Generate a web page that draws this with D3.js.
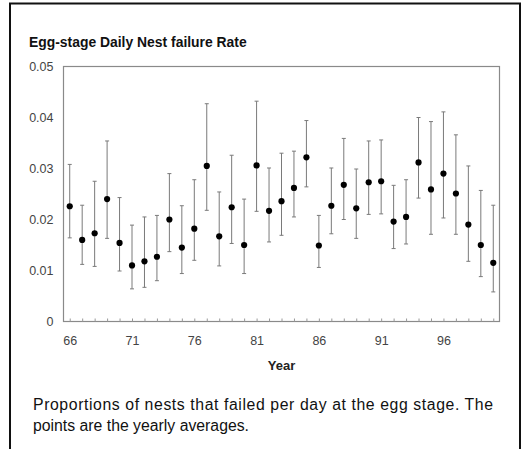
<!DOCTYPE html>
<html>
<head>
<meta charset="utf-8">
<script src="https://cdn.jsdelivr.net/npm/d3@7"></script>
<style>
  html, body { margin: 0; padding: 0; background: #fff; }
  svg { display: block; font-family: "Liberation Sans", Arial, sans-serif; }
</style>
</head>
<body>
<svg id="chart" width="523" height="449"></svg>
<script>
// Yearly egg-stage daily nest failure rates (1966–2000) with interval bounds
const years = [66, 67, 68, 69, 70, 71, 72, 73, 74, 75, 76, 77, 78, 79, 80, 81, 82, 83,
               84, 85, 86, 87, 88, 89, 90, 91, 92, 93, 94, 95, 96, 97, 98, 99, 100];
const rate  = [0.0226, 0.0160, 0.0173, 0.0240, 0.0154, 0.0110, 0.0118, 0.0127, 0.0200, 0.0145, 0.0182,
               0.0305, 0.0167, 0.0224, 0.0150, 0.0306, 0.0217, 0.0236, 0.0262, 0.0322, 0.0149, 0.0227, 0.0268,
               0.0222, 0.0273, 0.0275, 0.0196, 0.0205, 0.0312, 0.0259, 0.0290, 0.0251, 0.0190, 0.0150, 0.0115];
const upper = [0.0308, 0.0228, 0.0275, 0.0354, 0.0243, 0.0189, 0.0205, 0.0208, 0.0290, 0.0227, 0.0278,
               0.0427, 0.0254, 0.0326, 0.0240, 0.0432, 0.0301, 0.0330, 0.0334, 0.0394, 0.0208, 0.0301, 0.0359,
               0.0299, 0.0354, 0.0356, 0.0267, 0.0278, 0.0400, 0.0392, 0.0411, 0.0366, 0.0305, 0.0257, 0.0228];
const lower = [0.0164, 0.0112, 0.0108, 0.0163, 0.0099, 0.0064, 0.0067, 0.0080, 0.0137, 0.0094, 0.0120,
               0.0218, 0.0109, 0.0153, 0.0094, 0.0216, 0.0156, 0.0169, 0.0205, 0.0264, 0.0106, 0.0172, 0.0200,
               0.0163, 0.0210, 0.0211, 0.0143, 0.0152, 0.0242, 0.0171, 0.0203, 0.0171, 0.0118, 0.0088, 0.0058];

const xTickYears  = [66, 71, 76, 81, 86, 91, 96];
const yTickValues = [0, 0.01, 0.02, 0.03, 0.04, 0.05];
const yTickLabels = ["0", "0.01", "0.02", "0.03", "0.04", "0.05"];

const titleText = "Egg-stage Daily Nest failure Rate";
const xAxisTitle = "Year";
const captionLines = [
  "Proportions of nests that failed per day at the egg stage. The",
  "points are the yearly averages."
];

const rows = years.map((yr, i) => ({ year: yr, rate: rate[i], lo: lower[i], hi: upper[i] }));

const svg = d3.select("#chart");
const plot = { left: 63.5, right: 499.5, top: 66.5, bottom: 321.5 };

const x = d3.scaleLinear().domain([65.5, 100.5]).range([plot.left, plot.right]);
const y = d3.scaleLinear().domain([0, 0.05]).range([plot.bottom, plot.top]);

// Page frame (open at the bottom)
svg.append("path")
  .attr("d", "M10,449 V3.5 H520 V449")
  .attr("fill", "none")
  .attr("stroke", "#111")
  .attr("stroke-width", 2);

// Title
svg.append("text")
  .attr("x", 29)
  .attr("y", 47)
  .attr("font-size", 13.9)
  .attr("font-weight", "bold")
  .attr("fill", "#111")
  .text(titleText);

// Plot frame
svg.append("rect")
  .attr("x", plot.left)
  .attr("y", plot.top)
  .attr("width", plot.right - plot.left)
  .attr("height", plot.bottom - plot.top)
  .attr("fill", "none")
  .attr("stroke", "#8a8a8a")
  .attr("stroke-width", 1.2);

// Bottom axis: a short inward tick every year, labels every fifth year
const xAxis = d3.axisBottom(x)
  .tickValues(years)
  .tickSize(-3)
  .tickPadding(15)
  .tickFormat(d => xTickYears.includes(d) ? String(d) : "");

const gx = svg.append("g")
  .attr("transform", `translate(0,${plot.bottom})`)
  .call(xAxis);
gx.select(".domain").remove();
gx.selectAll(".tick line").attr("stroke", "#999");
gx.selectAll(".tick text")
  .attr("font-size", 12.5)
  .attr("font-family", "Liberation Sans, Arial, sans-serif")
  .attr("fill", "#444");

// Left axis
const yAxis = d3.axisLeft(y)
  .tickValues(yTickValues)
  .tickSize(0)
  .tickPadding(10)
  .tickFormat((d, i) => yTickLabels[i]);

const gy = svg.append("g")
  .attr("transform", `translate(${plot.left},0)`)
  .call(yAxis);
gy.select(".domain").remove();
gy.selectAll(".tick text")
  .attr("font-size", 12.5)
  .attr("font-family", "Liberation Sans, Arial, sans-serif")
  .attr("fill", "#444");

// Axis title
svg.append("text")
  .attr("x", (plot.left + plot.right) / 2)
  .attr("y", 370)
  .attr("text-anchor", "middle")
  .attr("font-size", 13)
  .attr("font-weight", "bold")
  .attr("fill", "#222")
  .text(xAxisTitle);

// Error bars
const bars = svg.append("g").selectAll("g.bar")
  .data(rows)
  .join("g")
  .attr("class", "bar")
  .attr("stroke", "#7a7a7a")
  .attr("stroke-width", 1);

bars.append("line")
  .attr("x1", d => x(d.year)).attr("x2", d => x(d.year))
  .attr("y1", d => y(d.hi)).attr("y2", d => y(d.lo));
bars.append("line")
  .attr("x1", d => x(d.year) - 2).attr("x2", d => x(d.year) + 2)
  .attr("y1", d => y(d.hi)).attr("y2", d => y(d.hi));
bars.append("line")
  .attr("x1", d => x(d.year) - 2).attr("x2", d => x(d.year) + 2)
  .attr("y1", d => y(d.lo)).attr("y2", d => y(d.lo));

// Yearly averages
svg.append("g").selectAll("circle")
  .data(rows)
  .join("circle")
  .attr("cx", d => x(d.year))
  .attr("cy", d => y(d.rate))
  .attr("r", 3.1)
  .attr("fill", "#000");

// Caption
const caption = svg.append("text")
  .attr("font-size", 15.8)
  .attr("fill", "#111");
caption.append("tspan")
  .attr("x", 33).attr("y", 410)
  .attr("textLength", 460)
  .attr("lengthAdjust", "spacing")
  .text(captionLines[0]);
caption.append("tspan")
  .attr("x", 33).attr("y", 431)
  .text(captionLines[1]);
</script>
</body>
</html>
